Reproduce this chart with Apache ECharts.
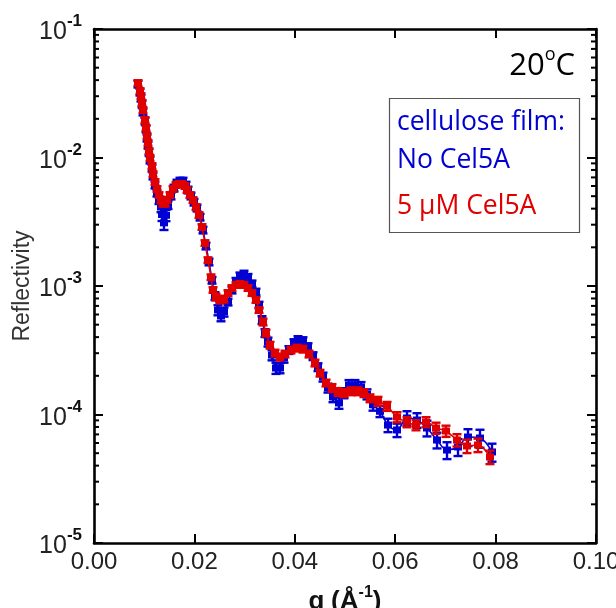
<!DOCTYPE html>
<html>
<head>
<meta charset="utf-8">
<script src="https://cdn.jsdelivr.net/npm/echarts@6/dist/echarts.min.js"></script>
<style>
  html, body { margin: 0; padding: 0; background: #fff; }
  #chart { width: 616px; height: 608px; }
</style>
</head>
<body>
<div id="chart"></div>
<script>
// Neutron reflectivity of a cellulose film at 20 °C, with and without Cel5A.
const xTicks = [0, 0.02, 0.04, 0.06, 0.08, 0.10];
const yDecades = [1e-5, 1e-4, 1e-3, 1e-2, 1e-1];

// No Cel5A
const qBlue = [0.00876, 0.00916, 0.00936, 0.00956, 0.00976, 0.01016, 0.01036, 0.01056, 0.01076, 0.01096,
  0.01116, 0.01155, 0.01175, 0.01215, 0.01255, 0.01295, 0.01335, 0.01355, 0.01394, 0.01434,
  0.01474, 0.01534, 0.01594, 0.01653, 0.01713, 0.01773, 0.01833, 0.01873, 0.01932, 0.01992,
  0.02052, 0.02112, 0.02171, 0.02231, 0.02291, 0.02351, 0.02410, 0.02470, 0.02530, 0.02590,
  0.02669, 0.02749, 0.02829, 0.02908, 0.02988, 0.03068, 0.03147, 0.03227, 0.03287, 0.03347,
  0.03406, 0.03466, 0.03546, 0.03625, 0.03705, 0.03785, 0.03884, 0.03984, 0.04064, 0.04163,
  0.04263, 0.04363, 0.04462, 0.04562, 0.04661, 0.04761, 0.04880, 0.04980, 0.05080, 0.05199,
  0.05319, 0.05438, 0.05558, 0.05697, 0.05857, 0.06036, 0.06235, 0.06434, 0.06633, 0.06833,
  0.07032, 0.07251, 0.07450, 0.07689, 0.07928];
const rBlue = [3.73e-2, 3.23e-2, 2.90e-2, 2.61e-2, 2.26e-2, 1.92e-2, 1.67e-2, 1.42e-2, 1.25e-2, 1.10e-2,
  9.56e-3, 8.28e-3, 7.18e-3, 6.11e-3, 5.29e-3, 4.67e-3, 4.12e-3, 3.60e-3, 3.10e-3, 3.55e-3,
  4.27e-3, 5.02e-3, 5.79e-3, 6.33e-3, 6.56e-3, 6.56e-3, 6.11e-3, 5.59e-3, 5.02e-3, 4.50e-3,
  4.05e-3, 3.44e-3, 2.73e-3, 2.05e-3, 1.54e-3, 1.11e-3, 8.36e-4, 6.50e-4, 5.84e-4, 6.28e-4,
  7.51e-4, 9.31e-4, 1.09e-3, 1.20e-3, 1.24e-3, 1.17e-3, 1.04e-3, 8.98e-4, 7.11e-4, 5.44e-4,
  4.31e-4, 3.67e-4, 2.90e-4, 2.30e-4, 2.30e-4, 2.75e-4, 3.18e-4, 3.60e-4, 3.80e-4, 3.73e-4,
  3.35e-4, 2.85e-4, 2.34e-4, 1.96e-4, 1.61e-4, 1.37e-4, 1.23e-4, 1.47e-4, 1.70e-4, 1.70e-4,
  1.64e-4, 1.44e-4, 1.19e-4, 1.06e-4, 8.28e-5, 7.58e-5, 9.39e-5, 9.06e-5, 7.85e-5, 6.33e-5,
  5.29e-5, 5.59e-5, 6.68e-5, 6.56e-5, 5.11e-5];
// relative half-width of each error bar
const eBlue = [0.06, 0.06, 0.06, 0.06, 0.06, 0.06, 0.06, 0.06, 0.06, 0.06,
  0.06, 0.06, 0.06, 0.06, 0.06, 0.07, 0.09, 0.11, 0.12, 0.10,
  0.07, 0.06, 0.06, 0.06, 0.06, 0.06, 0.06, 0.06, 0.06, 0.06,
  0.06, 0.06, 0.06, 0.06, 0.06, 0.06, 0.07, 0.09, 0.09, 0.08,
  0.06, 0.06, 0.06, 0.06, 0.06, 0.06, 0.06, 0.06, 0.06, 0.07,
  0.07, 0.08, 0.09, 0.10, 0.09, 0.08, 0.07, 0.07, 0.07, 0.07,
  0.07, 0.07, 0.07, 0.08, 0.08, 0.09, 0.10, 0.09, 0.09, 0.09,
  0.09, 0.09, 0.10, 0.10, 0.12, 0.12, 0.13, 0.13, 0.14, 0.14,
  0.15, 0.15, 0.15, 0.16, 0.16];

// 5 µM Cel5A
const qRed = [0.00876, 0.00916, 0.00936, 0.00956, 0.00976, 0.01016, 0.01036, 0.01056, 0.01076, 0.01096,
  0.01116, 0.01155, 0.01175, 0.01215, 0.01255, 0.01295, 0.01335, 0.01375, 0.01414, 0.01454,
  0.01514, 0.01574, 0.01633, 0.01693, 0.01753, 0.01813, 0.01853, 0.01912, 0.01972, 0.02032,
  0.02092, 0.02151, 0.02211, 0.02271, 0.02331, 0.02371, 0.02430, 0.02510, 0.02590, 0.02669,
  0.02749, 0.02829, 0.02908, 0.02988, 0.03068, 0.03147, 0.03227, 0.03287, 0.03367, 0.03426,
  0.03506, 0.03606, 0.03705, 0.03805, 0.03924, 0.04044, 0.04163, 0.04283, 0.04402, 0.04502,
  0.04622, 0.04741, 0.04861, 0.04980, 0.05120, 0.05259, 0.05378, 0.05498, 0.05657, 0.05837,
  0.06036, 0.06235, 0.06414, 0.06614, 0.06813, 0.07012, 0.07231, 0.07430, 0.07649, 0.07888];
const rRed = [3.80e-2, 3.29e-2, 3.01e-2, 2.66e-2, 2.34e-2, 1.96e-2, 1.70e-2, 1.47e-2, 1.30e-2, 1.12e-2,
  9.91e-3, 8.59e-3, 7.44e-3, 6.45e-3, 5.69e-3, 5.11e-3, 4.67e-3, 4.42e-3, 4.42e-3, 4.67e-3,
  5.11e-3, 5.69e-3, 6.11e-3, 6.22e-3, 6.22e-3, 6.00e-3, 5.59e-3, 5.11e-3, 4.67e-3, 4.12e-3,
  3.57e-3, 2.88e-3, 2.16e-3, 1.59e-3, 1.17e-3, 9.31e-4, 8.21e-4, 7.78e-4, 7.92e-4, 8.82e-4,
  9.65e-4, 1.02e-3, 1.04e-3, 1.02e-3, 9.65e-4, 8.82e-4, 7.78e-4, 6.50e-4, 5.25e-4, 4.31e-4,
  3.47e-4, 3.01e-4, 2.80e-4, 2.96e-4, 3.18e-4, 3.29e-4, 3.23e-4, 2.96e-4, 2.52e-4, 2.10e-4,
  1.76e-4, 1.61e-4, 1.50e-4, 1.47e-4, 1.52e-4, 1.52e-4, 1.47e-4, 1.34e-4, 1.27e-4, 1.16e-4,
  9.56e-5, 8.74e-5, 8.28e-5, 8.74e-5, 7.85e-5, 7.44e-5, 6.33e-5, 5.69e-5, 5.79e-5, 4.67e-5];
const eRed = [0.05, 0.05, 0.05, 0.05, 0.05, 0.05, 0.05, 0.05, 0.05, 0.05,
  0.05, 0.05, 0.05, 0.05, 0.05, 0.05, 0.06, 0.06, 0.06, 0.05,
  0.05, 0.05, 0.05, 0.05, 0.05, 0.05, 0.05, 0.05, 0.05, 0.05,
  0.05, 0.05, 0.05, 0.05, 0.05, 0.05, 0.06, 0.06, 0.06, 0.05,
  0.05, 0.05, 0.05, 0.05, 0.05, 0.05, 0.05, 0.05, 0.06, 0.06,
  0.06, 0.06, 0.06, 0.06, 0.06, 0.06, 0.06, 0.06, 0.06, 0.06,
  0.06, 0.07, 0.07, 0.07, 0.07, 0.07, 0.07, 0.07, 0.08, 0.08,
  0.09, 0.09, 0.09, 0.09, 0.10, 0.10, 0.11, 0.12, 0.12, 0.12];

const BLUE = '#0000d2';
const RED = '#e00000';
const FONT = '"Liberation Sans", Arial, Helvetica, sans-serif';
const TEXT_FONT = '"Open Sans", "Noto Sans", sans-serif';

function pts(q, r) { return q.map((v, i) => [v, r[i]]); }
function errPts(q, r, e) { return q.map((v, i) => [v, r[i], e[i]]); }

function errorBars(color) {
  return function (params, api) {
    const x = api.value(0), y = api.value(1), e = api.value(2);
    const lo = api.coord([x, y * (1 - e)]);
    const hi = api.coord([x, y * (1 + e)]);
    const w = 4.5;
    const st = { stroke: color, lineWidth: 2.4 };
    return {
      type: 'group',
      children: [
        { type: 'line', shape: { x1: lo[0], y1: lo[1], x2: hi[0], y2: hi[1] }, style: st },
        { type: 'line', shape: { x1: lo[0] - w, y1: lo[1], x2: lo[0] + w, y2: lo[1] }, style: st },
        { type: 'line', shape: { x1: hi[0] - w, y1: hi[1], x2: hi[0] + w, y2: hi[1] }, style: st }
      ]
    };
  };
}

function expLabel(v) {
  const n = Math.round(Math.log10(v));
  return '{b|10}{s|' + n + '}';
}

const chart = echarts.init(document.getElementById('chart'), null, { renderer: 'canvas' });

const axisLine = { show: true, onZero: false, lineStyle: { color: '#000', width: 2.6 } };
const majorTick = { show: true, inside: true, length: 9, lineStyle: { color: '#000', width: 2 } };

chart.setOption({
  animation: false,
  backgroundColor: '#fff',
  grid: { left: 94, right: 20, top: 29, bottom: 65, containLabel: false, outerBoundsMode: 'none' },
  xAxis: [{
    type: 'value', min: 0, max: 0.1, interval: 0.02, position: 'bottom',
    axisLine: axisLine, axisTick: majorTick, splitLine: { show: false },
    axisLabel: {
      margin: 7, color: '#222', fontFamily: FONT, fontSize: 24,
      formatter: v => xTicks.includes(+v.toFixed(2)) ? v.toFixed(2) : ''
    },
    name: '{q|q}  {q|(Å}{s|-1}{q|)}', nameLocation: 'middle', nameGap: 42, nameMoveOverlap: false,
    nameTextStyle: {
      rich: {
        q: { fontFamily: FONT, fontSize: 26, fontWeight: 'bold', color: '#111', verticalAlign: 'bottom', lineHeight: 30 },
        s: { fontFamily: FONT, fontSize: 16, fontWeight: 'bold', color: '#111', verticalAlign: 'top', lineHeight: 30 }
      }
    }
  }, {
    type: 'value', min: 0, max: 0.1, interval: 0.02, position: 'top',
    axisLine: axisLine, axisTick: majorTick, axisLabel: { show: false }, splitLine: { show: false }
  }],
  yAxis: [{
    type: 'log', logBase: 10, min: yDecades[0], max: yDecades[yDecades.length - 1], position: 'left',
    axisLine: axisLine, axisTick: majorTick, splitLine: { show: false },
    axisLabel: {
      margin: 12, formatter: expLabel,
      rich: {
        b: { fontFamily: FONT, fontSize: 25, color: '#222', verticalAlign: 'bottom', lineHeight: 32 },
        s: { fontFamily: FONT, fontSize: 17, fontWeight: 'bold', color: '#111', verticalAlign: 'top', lineHeight: 32 }
      }
    },
    name: 'Reflectivity', nameLocation: 'middle', nameGap: 60, nameRotate: 90, nameMoveOverlap: false,
    nameTextStyle: { fontFamily: FONT, fontSize: 23, color: '#333' }
  }, {
    type: 'log', logBase: 10, min: yDecades[0], max: yDecades[yDecades.length - 1], position: 'right',
    axisLine: axisLine, axisTick: majorTick, axisLabel: { show: false }, splitLine: { show: false }
  }],
  series: [
    {
      type: 'custom', name: 'No Cel5A errors', xAxisIndex: 0, yAxisIndex: 0,
      renderItem: errorBars(BLUE), data: errPts(qBlue, rBlue, eBlue), encode: { x: 0, y: 1 }, z: 2
    },
    {
      type: 'line', name: 'No Cel5A', xAxisIndex: 0, yAxisIndex: 0, data: pts(qBlue, rBlue),
      symbol: 'rect', symbolSize: [8, 7], smooth: 0.35, showSymbol: true,
      itemStyle: { color: BLUE }, lineStyle: { color: BLUE, width: 1.6 }, z: 3
    },
    {
      type: 'custom', name: '5 µM Cel5A errors', xAxisIndex: 0, yAxisIndex: 0,
      renderItem: errorBars(RED), data: errPts(qRed, rRed, eRed), encode: { x: 0, y: 1 }, z: 4
    },
    {
      type: 'line', name: '5 µM Cel5A', xAxisIndex: 0, yAxisIndex: 0, data: pts(qRed, rRed),
      symbol: 'rect', symbolSize: [8, 7], smooth: 0.35, showSymbol: true,
      itemStyle: { color: RED }, lineStyle: { color: RED, width: 1.6 }, z: 5
    }
  ]
});

// Minor log ticks (2..9 within each decade) on the left and right frame edges,
// plus the temperature tag and the sample key.
const xl = chart.convertToPixel({ xAxisIndex: 0 }, 0);
const xr = chart.convertToPixel({ xAxisIndex: 0 }, 0.1);
const extras = [];
for (let d = 0; d < yDecades.length - 1; d++) {
  for (let m = 2; m <= 9; m++) {
    const y = chart.convertToPixel({ yAxisIndex: 0 }, m * yDecades[d]);
    extras.push({ type: 'line', shape: { x1: xl, y1: y, x2: xl + 5, y2: y }, style: { stroke: '#000', lineWidth: 2 }, z: 10 });
    extras.push({ type: 'line', shape: { x1: xr, y1: y, x2: xr - 5, y2: y }, style: { stroke: '#000', lineWidth: 2 }, z: 10 });
  }
}
extras.push({
  type: 'text', right: 41, top: 46, z: 10,
  style: {
    text: '{n|20}{o|o}{n|C}',
    rich: {
      n: { fontFamily: TEXT_FONT, fontSize: 31, fill: '#000', verticalAlign: 'bottom', lineHeight: 36 },
      o: { fontFamily: TEXT_FONT, fontSize: 18, fill: '#000', verticalAlign: 'top', lineHeight: 36 }
    }
  }
});
extras.push({
  type: 'rect', shape: { x: 389.5, y: 98.5, width: 190, height: 134 },
  style: { fill: '#fff', stroke: '#555', lineWidth: 1.2 }, z: 9
});
extras.push({ type: 'text', x: 397, y: 109, z: 10, style: { text: 'cellulose film:', fontFamily: TEXT_FONT, fontSize: 26.5, fill: BLUE } });
extras.push({ type: 'text', x: 397, y: 147, z: 10, style: { text: 'No Cel5A', fontFamily: TEXT_FONT, fontSize: 26.5, fill: BLUE } });
extras.push({ type: 'text', x: 397, y: 193, z: 10, style: { text: '5 µM Cel5A', fontFamily: TEXT_FONT, fontSize: 26.5, fill: RED } });
chart.setOption({ graphic: extras });
</script>
</body>
</html>
